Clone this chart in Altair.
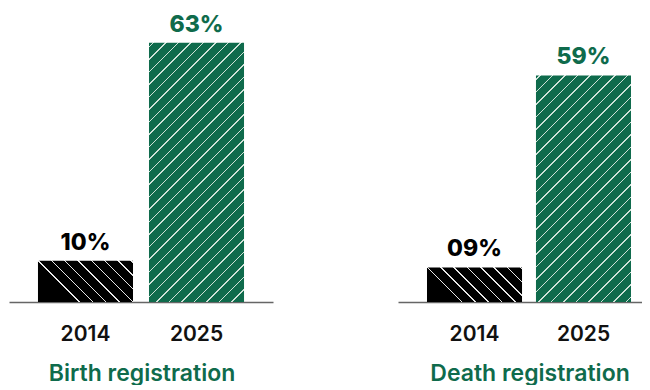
import altair as alt
import pandas as pd

# ---- data ----
years = ["2014", "2025"]
birth_values = [10, 63]
death_values = [9, 59]
birth_labels = ["10%", "63%"]
death_labels = ["09%", "59%"]
panel_titles = ["Birth registration", "Death registration"]

GREEN = "#0f6b4c"
BLACK = "#000000"
FONT = "Inter"

PLOT_H = 288
BAR_W = 95


def hatch(base, stripe, w, h, direction, spacing, lw, phase):
    L = w + h
    denom = w * w + h * h
    a = w * L / denom
    b = h * L / denom
    if direction == "/":
        x1, y1, x2, y2 = 0, 0, a, b
    else:
        x1, y1, x2, y2 = 0, 1, a, 1 - b
    stops = [{"offset": 0, "color": base}]
    s = phase
    while s < L:
        t0 = max(0.0, (s - lw / 2) / L)
        t1 = min(1.0, (s + lw / 2) / L)
        stops += [
            {"offset": t0, "color": base},
            {"offset": t0, "color": stripe},
            {"offset": t1, "color": stripe},
            {"offset": t1, "color": base},
        ]
        s += spacing
    stops.append({"offset": 1, "color": base})
    return {"gradient": "linear", "x1": x1, "y1": y1, "x2": x2, "y2": y2, "stops": stops}


def panel(title, values, labels, ymax, width, scale_kw, title_x):
    df = pd.DataFrame({"year": years, "value": values, "label": labels})
    px = PLOT_H / ymax
    g_old = hatch(BLACK, "#e6e6e6", BAR_W, values[0] * px, "\\", 13.3, 1.5, values[0] * px + 0.5)
    g_new = hatch(GREEN, "#cfe2d8", BAR_W, values[1] * px, "/", 12.5, 1.5, 4.3)

    x = alt.X(
        "year:N",
        sort=years,
        scale=alt.Scale(**scale_kw),
        axis=alt.Axis(
            title=title,
            titleX=title_x,
            labelAngle=0,
            ticks=False,
            domainColor="#666666",
            domainWidth=1.5,
            labelFont=FONT,
            labelFontSize=21,
            labelFontWeight=600,
            labelColor="#111111",
            labelPadding=21,
            titleFont=FONT,
            titleFontSize=23,
            titleFontWeight=600,
            titleColor=GREEN,
            titlePadding=18,
        ),
    )
    y = alt.Y("value:Q", axis=None, scale=alt.Scale(domain=[0, ymax], nice=False))

    base = alt.Chart(df).encode(x=x, y=y)
    bars = base.mark_bar().encode(
        fill=alt.condition(alt.datum.year == "2014", alt.value(g_old), alt.value(g_new))
    )
    text = base.mark_text(
        dy=-11, baseline="alphabetic", font=FONT, fontSize=23, fontWeight=800
    ).encode(
        text="label:N",
        color=alt.condition(alt.datum.year == "2014", alt.value(BLACK), alt.value(GREEN)),
    )
    return alt.layer(bars, text).properties(width=width, height=PLOT_H)


left = panel(panel_titles[0], birth_values, birth_labels, 70, 264,
             dict(paddingInner=0.144, paddingOuter=0.261), 132.5)
right = panel(panel_titles[1], death_values, death_labels, 75, 244,
              dict(paddingInner=0.128, paddingOuter=0.1835, align=0.725), 131.5)

chart = (
    alt.hconcat(left, right, spacing=125)
    .properties(padding={"left": 1, "top": 5, "right": 0, "bottom": 0})
    .configure_view(stroke=None)
    .configure_axis(domainCap="butt")
)

chart.save("out.html", embed_options={"renderer": "svg", "actions": False})
